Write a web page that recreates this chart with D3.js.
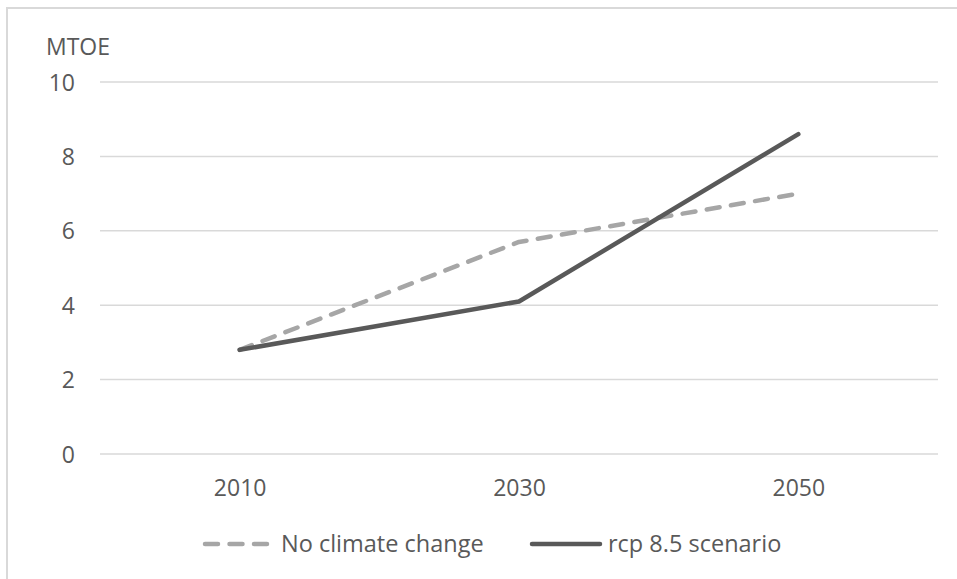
<!DOCTYPE html>
<html>
<head>
<meta charset="utf-8">
<script src="https://cdn.jsdelivr.net/npm/d3@7"></script>
<style>
  html, body { margin: 0; padding: 0; background: #fff; }
  svg { display: block; }
  text { font-family: "Open Sans", "Noto Sans", sans-serif; fill: #595959; }
</style>
</head>
<body>
<svg id="chart" width="957" height="579"></svg>
<script>
// Energy demand (MTOE) by year under two scenarios
const years = ["2010", "2030", "2050"];
const noClimateChange = [2.8, 5.7, 7.0];
const rcp85 = [2.8, 4.1, 8.6];
const yTicks = [0, 2, 4, 6, 8, 10];
const seriesNames = ["No climate change", "rcp 8.5 scenario"];

const W = 957, H = 579;
const plot = { left: 100, right: 938, top: 82, bottom: 454 };

const svg = d3.select("#chart");

// outer chart frame (runs past the right and bottom edges)
svg.append("rect")
  .attr("x", 7).attr("y", 8)
  .attr("width", W + 20).attr("height", H + 20)
  .attr("fill", "none")
  .attr("stroke", "#d9d9d9")
  .attr("stroke-width", 2);

const x = d3.scalePoint().domain(years).range([plot.left, plot.right]).padding(0.5);
const y = d3.scaleLinear().domain([0, 10]).range([plot.bottom, plot.top]);

// horizontal gridlines
svg.append("g").selectAll("line")
  .data(yTicks)
  .join("line")
  .attr("x1", plot.left).attr("x2", plot.right)
  .attr("y1", d => y(d)).attr("y2", d => y(d))
  .attr("stroke", "#d9d9d9")
  .attr("stroke-width", 1.5);

// y axis labels
const yAxis = d3.axisLeft(y).tickValues(yTicks).tickSize(0).tickPadding(0);
const gy = svg.append("g").attr("transform", `translate(${plot.left - 25},0)`).call(yAxis);
gy.select(".domain").remove();
gy.selectAll("text")
  .attr("font-size", 23)
  .attr("font-family", null)
  .attr("fill", "#595959")
  .attr("dy", "0.35em");

// x axis labels
const xAxis = d3.axisBottom(x).tickSize(0).tickPadding(0);
const gx = svg.append("g").attr("transform", `translate(0,488)`).call(xAxis);
gx.select(".domain").remove();
gx.selectAll("text")
  .attr("font-size", 23)
  .attr("font-family", null)
  .attr("fill", "#595959")
  .attr("dy", "0.35em");

// unit label
svg.append("text")
  .attr("x", 46).attr("y", 47)
  .attr("dy", "0.35em")
  .attr("font-size", 23)
  .text("MTOE");

const line = d3.line().x((d, i) => x(years[i])).y(d => y(d));

const styles = [
  { color: "#a6a6a6", dash: "13,11.5" },
  { color: "#595959", dash: null }
];

// series lines
[noClimateChange, rcp85].forEach((vals, k) => {
  svg.append("path")
    .datum(vals)
    .attr("d", line)
    .attr("fill", "none")
    .attr("stroke", styles[k].color)
    .attr("stroke-width", 4.5)
    .attr("stroke-linecap", "round")
    .attr("stroke-linejoin", "round")
    .attr("stroke-dasharray", styles[k].dash);
});

// legend
const legendItems = [
  { x1: 205, x2: 267, tx: 281 },
  { x1: 532, x2: 600, tx: 608 }
];
const lg = svg.append("g");
legendItems.forEach((it, k) => {
  lg.append("line")
    .attr("x1", it.x1).attr("x2", it.x2)
    .attr("y1", 544).attr("y2", 544)
    .attr("stroke", styles[k].color)
    .attr("stroke-width", 4.5)
    .attr("stroke-linecap", "round")
    .attr("stroke-dasharray", styles[k].dash);
  lg.append("text")
    .attr("x", it.tx).attr("y", 544)
    .attr("dy", "0.35em")
    .attr("font-size", 23.5)
    .text(seriesNames[k]);
});
</script>
</body>
</html>
